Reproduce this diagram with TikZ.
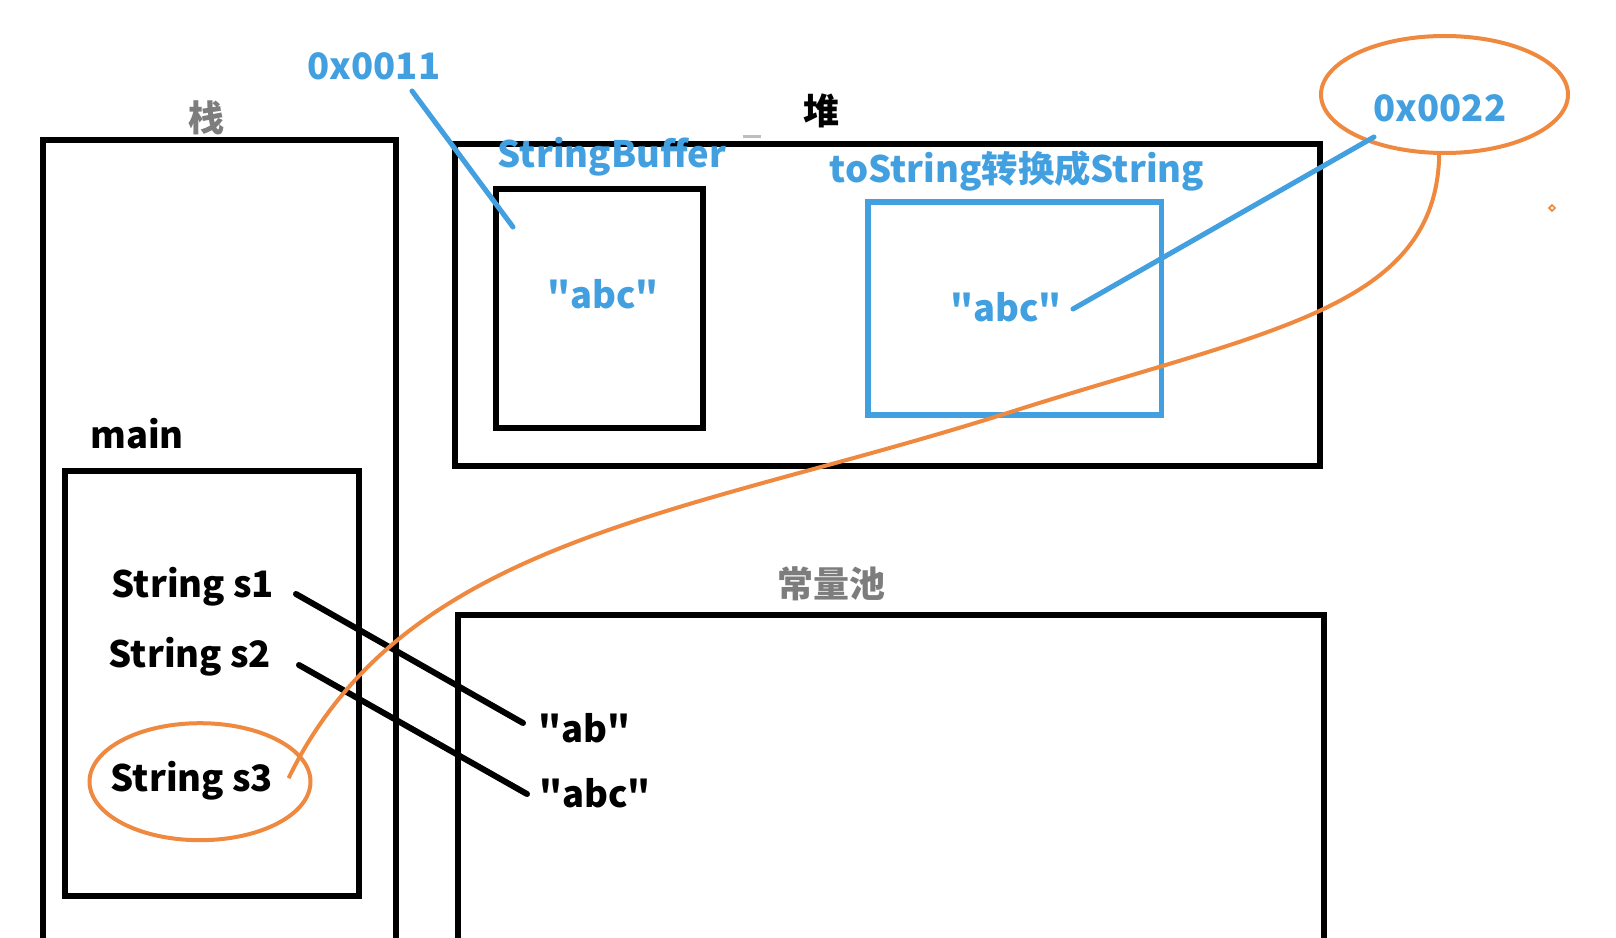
\documentclass[tikz,border=0pt]{standalone}
\usepackage{fontspec}
\setmainfont{Noto Sans CJK SC}[Ligatures=TeXOff]
\usetikzlibrary{shapes.geometric,fit}
\definecolor{jblue}{RGB}{66,160,224}
\definecolor{jorange}{RGB}{239,137,64}
\definecolor{jgray}{RGB}{125,125,125}
\newcommand{\sdq}{\char34\relax}
\begin{document}
\begin{tikzpicture}[x=0.75pt,y=-0.75pt,
  box/.style={draw=black, line width=4.5pt, inner sep=0pt},
  bluebox/.style={draw=jblue, line width=4pt, inner sep=0pt},
  lbl/.style={font=\fontsize{27.3}{32}\selectfont\bfseries, inner sep=0pt, anchor=base},
  cjklbl/.style={font=\fontsize{27}{30}\selectfont\bfseries, inner sep=0pt},
  bline/.style={line width=3.8pt, draw=jblue, line cap=round},
  kline/.style={line width=4.5pt, draw=black, line cap=round},
  oline/.style={line width=3pt, draw=jorange},
  oell/.style={draw=jorange, line width=3pt, ellipse, inner sep=0pt},
]
\useasboundingbox (0,0) rectangle (1616,938);
\fill[white] (0,0) rectangle (1616,938);
\clip (0,0) rectangle (1616,938);

% boxes
\node[box, fit={(43,140) (396,975)}] (stack) {};
\node[box, fit={(65,471) (359,896)}] (mainbox) {};
\node[box, fit={(454.5,144) (1320,466)}] (heap) {};
\node[box, fit={(496,189) (703,428)}] (sbbox) {};
\node[bluebox, fit={(868,202) (1161.5,415)}] (tsbox) {};
\node[box, fit={(457.6,615) (1324,975)}] (pool) {};

% section labels
\node[cjklbl, text=jgray] (zhan) at (206,117.5) {栈};
\node[cjklbl, text=black] (dui) at (821,111) {堆};
\node[cjklbl, text=jgray] (cll) at (831,584) {常量池};
\draw[jgray!50, line width=1.8pt] (743,136.5) -- (761,136.5);

% heap labels
\node[lbl, text=jblue] (t11) at (374,80) {0x0011};
\node[lbl, text=jblue] (tsb) at (612,168) {StringBuffer};
\node[lbl, text=jblue] (tts) at (1017,182.5) {toString转换成String};
\node[lbl, text=jblue] (abc1) at (603,308) {\sdq abc\sdq};
\node[lbl, text=jblue] (abc2) at (1006,321.5) {\sdq abc\sdq};

% stack labels
\node[lbl] (tmain) at (137,448) {main};
\node[lbl] (s1) at (193,597) {String s1};
\node[lbl] (s2) at (190,667) {String s2};
\node[lbl] (s3) at (192,791.5) {String s3};

% pool labels
\node[lbl] (ab) at (584.5,742) {\sdq ab\sdq};
\node[lbl] (abc) at (595,807) {\sdq abc\sdq};

% orange ellipses
\node[oell, minimum width=185.25pt, minimum height=87.75pt] (o22) at (1444.5,94.5) {};
\node[lbl, text=jblue] (t22) at (1440,121.6) {0x0022};
\node[oell, minimum width=165.75pt, minimum height=87.75pt] (e3) at (200,781.7) {};
\node[draw=jorange, diamond, line width=1.3pt, minimum size=5pt, inner sep=0pt] (dot) at (1552,208) {};

% connector end points
\coordinate (a11) at (412,91);
\coordinate (b11) at (513,227);
\coordinate (a22) at (1073,309);
\coordinate (b22) at (1374,137);
\coordinate (s1a) at (296,594);
\coordinate (s1b) at (523,723);
\coordinate (s2a) at (299,665);
\coordinate (s2b) at (527,794);
\coordinate (s3end) at (288.6,778.1);

% connectors
\draw[kline] (s1a) -- (s1b);
\draw[kline] (s2a) -- (s2b);
\draw[bline] (a11) -- (b11);
\draw[bline] (a22) -- (b22);
\draw[oline] (o22.265) .. controls (1435.6,309.2) and (1268.7,329.8) .. (1010,412.2)
  .. controls (686.4,515.3) and (406.1,537) .. (s3end);
\end{tikzpicture}
\end{document}
